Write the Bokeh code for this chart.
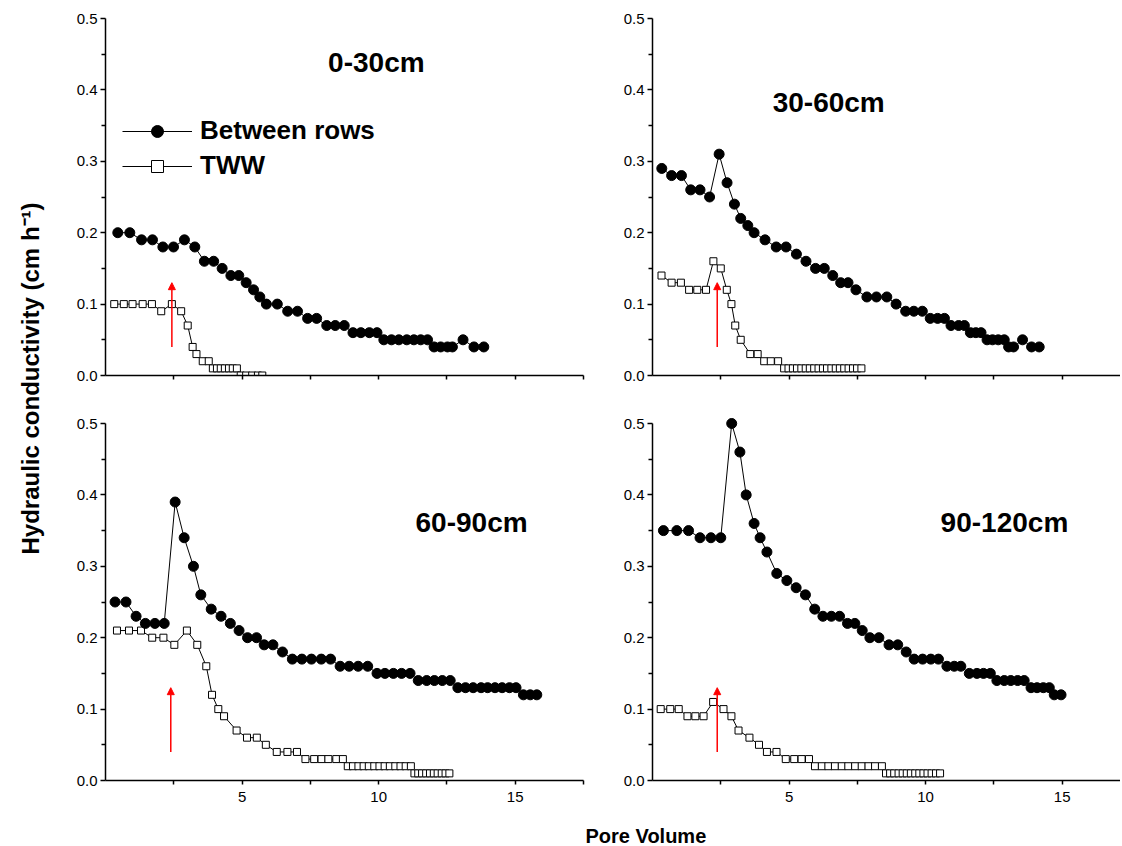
import numpy as np
from bokeh.plotting import figure
from bokeh.layouts import row, column
from bokeh.models import (Range1d, Legend, LegendItem, Arrow, NormalHead,
                          FixedTicker, Label, PrintfTickFormatter)
from bokeh.core.properties import value
from bokeh.embed import file_html
from bokeh.resources import INLINE

FONT = "Liberation Sans"

# ---------------- data ----------------
depths = ["0-30cm", "30-60cm", "60-90cm", "90-120cm"]
series_names = ["Between rows", "TWW"]

# 0-30 cm
br1_x = [0.45, 0.89, 1.32, 1.72, 2.10, 2.49, 2.89, 3.27, 3.62, 3.96, 4.27, 4.59, 4.88, 5.15, 5.42,
         5.65, 5.89, 6.29, 6.67, 7.03, 7.40, 7.73, 8.10, 8.41, 8.74, 9.06, 9.35, 9.66, 9.94, 10.19,
         10.47, 10.74, 11.03, 11.29, 11.54, 11.79, 12.03, 12.27, 12.52, 12.70, 13.09, 13.49, 13.85]
br1_y = [0.20, 0.20, 0.19, 0.19, 0.18, 0.18, 0.19, 0.18, 0.16, 0.16, 0.15, 0.14, 0.14, 0.13, 0.12,
         0.11, 0.10, 0.10, 0.09, 0.09, 0.08, 0.08, 0.07, 0.07, 0.07, 0.06, 0.06, 0.06, 0.06, 0.05,
         0.05, 0.05, 0.05, 0.05, 0.05, 0.05, 0.04, 0.04, 0.04, 0.04, 0.05, 0.04, 0.04]
tww1_x = [0.32, 0.67, 0.99, 1.36, 1.70, 2.04, 2.43, 2.77, 3.01, 3.19, 3.33, 3.56, 3.78, 3.93, 4.08,
          4.22, 4.37, 4.52, 4.66, 4.81, 4.95, 5.15, 5.37, 5.58, 5.74]
tww1_y = [0.10, 0.10, 0.10, 0.10, 0.10, 0.09, 0.10, 0.09, 0.07, 0.04, 0.03, 0.02, 0.02, 0.01, 0.01,
          0.01, 0.01, 0.01, 0.01, 0.01, 0.00, 0.00, 0.00, 0.00, 0.00]

# 30-60 cm
br2_x = [0.34, 0.70, 1.06, 1.40, 1.74, 2.09, 2.44, 2.73, 3.00, 3.23, 3.49, 3.72, 4.12, 4.53, 4.89,
         5.27, 5.62, 5.97, 6.29, 6.60, 6.89, 7.16, 7.45, 7.85, 8.20, 8.58, 8.92, 9.27, 9.57, 9.88,
         10.17, 10.44, 10.69, 10.93, 11.21, 11.42, 11.64, 11.84, 12.03, 12.25, 12.45, 12.66, 12.88,
         13.04, 13.22, 13.55, 13.88, 14.16]
br2_y = [0.29, 0.28, 0.28, 0.26, 0.26, 0.25, 0.31, 0.27, 0.24, 0.22, 0.21, 0.20, 0.19, 0.18, 0.18,
         0.17, 0.16, 0.15, 0.15, 0.14, 0.13, 0.13, 0.12, 0.11, 0.11, 0.11, 0.10, 0.09, 0.09, 0.09,
         0.08, 0.08, 0.08, 0.07, 0.07, 0.07, 0.06, 0.06, 0.06, 0.05, 0.05, 0.05, 0.05,
         0.04, 0.04, 0.05, 0.04, 0.04]
tww2_x = [0.33, 0.70, 1.04, 1.34, 1.64, 1.96, 2.23, 2.50, 2.72, 2.89, 3.03, 3.23, 3.58, 3.85, 4.09,
          4.33, 4.60, 4.82, 4.98, 5.14, 5.29, 5.45, 5.61, 5.76, 5.92, 6.08, 6.24, 6.39, 6.55, 6.71,
          6.86, 7.02, 7.18, 7.34, 7.49, 7.65]
tww2_y = [0.14, 0.13, 0.13, 0.12, 0.12, 0.12, 0.16, 0.15, 0.12, 0.10, 0.07, 0.05, 0.03, 0.03, 0.02,
          0.02, 0.02, 0.01, 0.01, 0.01, 0.01, 0.01, 0.01, 0.01, 0.01, 0.01, 0.01, 0.01, 0.01, 0.01,
          0.01, 0.01, 0.01, 0.01, 0.01, 0.01]

# 60-90 cm
br3_x = [0.35, 0.75, 1.12, 1.46, 1.81, 2.15, 2.55, 2.88, 3.22, 3.49, 3.87, 4.23, 4.57, 4.89, 5.20,
         5.53, 5.81, 6.13, 6.48, 6.84, 7.19, 7.54, 7.90, 8.24, 8.59, 8.92, 9.25, 9.60, 9.94, 10.23,
         10.54, 10.84, 11.15, 11.45, 11.76, 12.04, 12.33, 12.62, 12.90, 13.18, 13.46, 13.75, 13.99,
         14.26, 14.52, 14.79, 15.03, 15.30, 15.55, 15.79]
br3_y = [0.25, 0.25, 0.23, 0.22, 0.22, 0.22, 0.39, 0.34, 0.30, 0.26, 0.24, 0.23, 0.22, 0.21, 0.20,
         0.20, 0.19, 0.19, 0.18, 0.17, 0.17, 0.17, 0.17, 0.17, 0.16, 0.16, 0.16, 0.16, 0.15, 0.15,
         0.15, 0.15, 0.15, 0.14, 0.14, 0.14, 0.14, 0.14, 0.13, 0.13, 0.13, 0.13, 0.13,
         0.13, 0.13, 0.13, 0.13, 0.12, 0.12, 0.12]
tww3_x = [0.42, 0.86, 1.30, 1.71, 2.12, 2.52, 2.98, 3.36, 3.69, 3.90, 4.13, 4.34, 4.80, 5.18, 5.54,
          5.87, 6.27, 6.66, 7.01, 7.32, 7.64, 7.91, 8.16, 8.45, 8.69, 8.87, 9.06, 9.26, 9.45, 9.64,
          9.84, 10.03, 10.22, 10.41, 10.61, 10.80, 10.99, 11.18, 11.31, 11.45, 11.59, 11.74, 11.88,
          12.02, 12.16, 12.31, 12.45, 12.59]
tww3_y = [0.21, 0.21, 0.21, 0.20, 0.20, 0.19, 0.21, 0.19, 0.16, 0.12, 0.10, 0.09, 0.07, 0.06, 0.06,
          0.05, 0.04, 0.04, 0.04, 0.03, 0.03, 0.03, 0.03, 0.03, 0.03, 0.02, 0.02, 0.02, 0.02, 0.02,
          0.02, 0.02, 0.02, 0.02, 0.02, 0.02, 0.02, 0.02, 0.01, 0.01, 0.01, 0.01, 0.01,
          0.01, 0.01, 0.01, 0.01, 0.01]

# 90-120 cm
br4_x = [0.40, 0.89, 1.32, 1.74, 2.14, 2.50, 2.90, 3.20, 3.43, 3.72, 3.94, 4.19, 4.55, 4.92, 5.26,
         5.60, 5.94, 6.24, 6.55, 6.85, 7.14, 7.41, 7.68, 7.96, 8.29, 8.66, 8.98, 9.29, 9.58, 9.89,
         10.19, 10.47, 10.78, 11.05, 11.29, 11.60, 11.88, 12.12, 12.37, 12.61, 12.88, 13.12, 13.37,
         13.61, 13.86, 14.08, 14.31, 14.53, 14.71, 14.96]
br4_y = [0.35, 0.35, 0.35, 0.34, 0.34, 0.34, 0.50, 0.46, 0.40, 0.36, 0.34, 0.32, 0.29, 0.28, 0.27,
         0.26, 0.24, 0.23, 0.23, 0.23, 0.22, 0.22, 0.21, 0.20, 0.20, 0.19, 0.19, 0.18, 0.17, 0.17,
         0.17, 0.17, 0.16, 0.16, 0.16, 0.15, 0.15, 0.15, 0.15, 0.14, 0.14, 0.14, 0.14,
         0.14, 0.13, 0.13, 0.13, 0.13, 0.12, 0.12]
tww4_x = [0.30, 0.65, 0.96, 1.28, 1.57, 1.87, 2.22, 2.60, 2.89, 3.15, 3.55, 3.90, 4.19, 4.54, 4.88,
          5.19, 5.46, 5.73, 5.95, 6.20, 6.44, 6.68, 6.93, 7.17, 7.42, 7.66, 7.91, 8.15, 8.40, 8.55,
          8.70, 8.85, 9.01, 9.16, 9.31, 9.46, 9.62, 9.77, 9.92, 10.07, 10.22, 10.38, 10.53]
tww4_y = [0.10, 0.10, 0.10, 0.09, 0.09, 0.09, 0.11, 0.10, 0.09, 0.07, 0.06, 0.05, 0.04, 0.04, 0.03,
          0.03, 0.03, 0.03, 0.02, 0.02, 0.02, 0.02, 0.02, 0.02, 0.02, 0.02, 0.02, 0.02, 0.02, 0.01,
          0.01, 0.01, 0.01, 0.01, 0.01, 0.01, 0.01, 0.01, 0.01, 0.01, 0.01, 0.01, 0.01]

# red arrows (start of TWW application), pore volume
arrow_x = [2.43, 2.37, 2.39, 2.37]
arrow_from = 0.04
arrow_to = 0.13

# axis ticks
y_ticks = [0.0, 0.1, 0.2, 0.3, 0.4, 0.5]
y_minor = [0.05, 0.15, 0.25, 0.35, 0.45]
x_ticks = [5, 10, 15]
x_minor = [2.5, 7.5, 12.5, 17.5]

y_label = "Hydraulic conductivity (cm h\u207b\u00b9)"
x_label = "Pore Volume"

# ---------------- layout constants ----------------
PX_PER_Y = 714.0          # pixels per unit on y
PX_PER_X = 27.31          # pixels per unit on x
FH = 365                  # frame height (0.5 + a little headroom)
Y_END = FH / PX_PER_Y
LEFT_FW = 478
RIGHT_FW = 468

title_pos = [(8.15, 0.438), (4.4, 0.382), (11.35, 0.361), (10.55, 0.361)]


def style_axes(p, bottom_labels):
    for ax in (p.xaxis[0], p.yaxis[0]):
        ax.axis_line_width = 1.5
        ax.axis_line_color = "black"
        ax.major_tick_line_width = 1.5
        ax.minor_tick_line_width = 1.5
        ax.major_tick_in = 0
        ax.minor_tick_in = 0
        ax.major_tick_out = 5
        ax.minor_tick_out = 4
        ax.major_label_text_font = FONT
        ax.major_label_text_font_size = "15px"
        ax.major_label_text_color = "black"
    p.yaxis[0].ticker = FixedTicker(ticks=y_ticks, minor_ticks=y_minor)
    p.yaxis[0].formatter = PrintfTickFormatter(format="%.1f")
    p.yaxis[0].major_label_standoff = 3
    p.yaxis[0].bounds = (0, 0.5)
    if bottom_labels:
        p.xaxis[0].ticker = FixedTicker(ticks=x_ticks, minor_ticks=x_minor)
        p.xaxis[0].major_tick_out = 4
        p.xaxis[0].major_label_standoff = 7
    else:
        p.xaxis[0].ticker = FixedTicker(ticks=[], minor_ticks=sorted(x_ticks + x_minor))
    p.xgrid.visible = False
    p.ygrid.visible = False
    p.outline_line_color = None


def make_panel(i, bx, by, tx, ty, left, fw, x_end, top, bottom, right, bottom_labels):
    p = figure(frame_width=fw, frame_height=FH,
               x_range=Range1d(0, x_end), y_range=Range1d(0, Y_END),
               min_border_left=left, min_border_right=right,
               min_border_top=top, min_border_bottom=bottom,
               output_backend="svg", toolbar_location=None, title=None,
               background_fill_color="white", border_fill_color="white")
    style_axes(p, bottom_labels)
    p.line(tx, ty, line_color="black", line_width=1)
    p.scatter(tx, ty, marker="square", size=7, fill_color="white",
              line_color="black", line_width=1)
    p.line(bx, by, line_color="black", line_width=1)
    p.scatter(bx, by, marker="circle", size=10, fill_color="black",
              line_color="black")
    p.add_layout(Arrow(end=NormalHead(size=7, fill_color="red", line_color="red"),
                       x_start=arrow_x[i], y_start=arrow_from,
                       x_end=arrow_x[i], y_end=arrow_to,
                       line_color="red", line_width=1.5))
    tx0, ty0 = title_pos[i]
    p.add_layout(Label(x=tx0, y=ty0, text=depths[i], text_font=FONT,
                       text_font_style="bold", text_font_size="28px",
                       text_baseline="middle", text_align="left",
                       text_color="black"))
    return p


p1 = make_panel(0, br1_x, br1_y, tww1_x, tww1_y, 47, LEFT_FW, 17.5, 10, 36, 5, False)
p2 = make_panel(1, br2_x, br2_y, tww2_x, tww2_y, 64, RIGHT_FW, RIGHT_FW / PX_PER_X, 10, 36, 0, False)
p3 = make_panel(2, br3_x, br3_y, tww3_x, tww3_y, 47, LEFT_FW, 17.5, 4, 30, 5, True)
p4 = make_panel(3, br4_x, br4_y, tww4_x, tww4_y, 64, RIGHT_FW, RIGHT_FW / PX_PER_X, 4, 30, 0, True)

# legend in the first panel: legend-only renderers placed outside the visible range
off = [-10.0]
lg_l1 = p1.line(off, off, line_color="black", line_width=1)
lg_s1 = p1.scatter(off, off, marker="circle", size=12, fill_color="black", line_color="black")
lg_l2 = p1.line(off, off, line_color="black", line_width=1)
lg_s2 = p1.scatter(off, off, marker="square", size=10, fill_color="white", line_color="black")
legend = Legend(items=[LegendItem(label=series_names[0], renderers=[lg_l1, lg_s1]),
                       LegendItem(label=series_names[1], renderers=[lg_l2, lg_s2])],
                location=(17, 194), glyph_width=70, glyph_height=30, label_height=30,
                label_standoff=8, spacing=4, padding=0, margin=0,
                border_line_color=None, background_fill_alpha=0,
                label_text_font=FONT, label_text_font_style="bold",
                label_text_font_size="26px", label_text_color="black")
p1.add_layout(legend)

TOTAL_H = 846
YLAB_W = 58
ylab = figure(width=YLAB_W, height=TOTAL_H, x_range=Range1d(0, YLAB_W), y_range=Range1d(0, TOTAL_H),
              x_axis_location=None, y_axis_location=None, min_border=0, title=None,
              output_backend="svg", toolbar_location=None)
ylab.grid.visible = False
ylab.outline_line_color = None
ylab.text(x=[30], y=[TOTAL_H - 378], text=[y_label], angle=np.pi / 2,
          text_align="center", text_baseline="middle", text_font=value(FONT),
          text_font_style="bold", text_font_size=value("24px"), text_color="black")

XLAB_W = 1062
XLAB_H = 36
xlab = figure(width=XLAB_W, height=XLAB_H, x_range=Range1d(0, XLAB_W), y_range=Range1d(0, XLAB_H),
              x_axis_location=None, y_axis_location=None, min_border=0, title=None,
              output_backend="svg", toolbar_location=None)
xlab.grid.visible = False
xlab.outline_line_color = None
xlab.text(x=[527], y=[11], text=[x_label], text_align="left", text_baseline="middle",
          text_font=value(FONT), text_font_style="bold", text_font_size=value("20px"),
          text_color="black")

layout = row(ylab, column(row(p1, p2), row(p3, p4), xlab))

open("out.html", "w").write(file_html(layout, INLINE, title="Hydraulic conductivity"))
